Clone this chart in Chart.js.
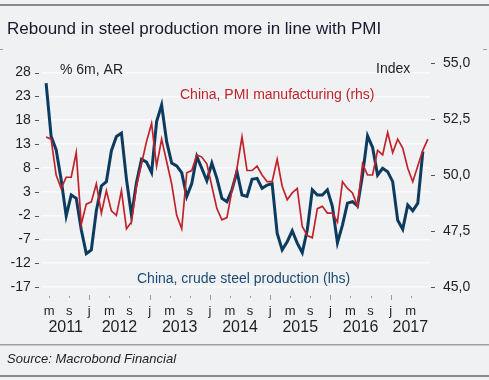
<!DOCTYPE html>
<html>
<head>
<meta charset="utf-8">
<script src="https://cdn.jsdelivr.net/npm/chart.js@4.4.1/dist/chart.umd.min.js"></script>
<style>
  html, body { margin: 0; padding: 0; background: #eff1f3; }
  #wrap { width: 489px; height: 380px; position: relative; }
  canvas { display: block; }
</style>
</head>
<body>
<div id="wrap"><canvas id="chart" width="489" height="380"></canvas></div>
<script>
// ---- Data (monthly, first observation April 2011) ----
const firstYear = 2011;
const firstMonth = 4; // April
const titleText = 'Rebound in steel production more in line with PMI';
const sourceText = 'Source: Macrobond Financial';
const steelLabel = 'China, crude steel production (lhs)';
const pmiLabel = 'China, PMI manufacturing (rhs)';
const leftUnit = '% 6m, AR';
const rightUnit = 'Index';

// China, crude steel production, % 6m annualised rate (lhs), Apr 2011 - Jul 2017
const steelProduction = [
  25.8, 14.6, 11.8, 5.5, -2.1, 2.3, 1.6, -5.0, -10.0, -9.2,
  -1.0, 4.2, 5.1, 11.6, 14.6, 15.3, 5.6, -2.0, 5.0, 9.8,
  9.2, 7.0, 17.7, 21.2, 13.5, 9.0, 8.4, 7.0, 2.0, 4.7,
  10.4, 7.9, 5.3, 9.0, 5.8, 1.6, 0.9, 3.4, 7.2, 2.3,
  2.0, 5.6, 5.8, 3.7, 4.4, 4.7, -5.7, -9.2, -7.5, -5.2,
  -7.8, -9.8, -5.0, 3.4, 2.3, 2.3, 3.4, -0.1, -7.7, -4.0,
  0.6, 0.9, 0.0, 6.5, 14.7, 12.3, 6.5, 7.9, 7.2, 5.1,
  -3.0, -4.9, 0.2, -1.0, 0.6, 11.4
];

// China, PMI manufacturing, index (rhs), Apr 2011 - Aug 2017
const pmiManufacturing = [
  51.7, 51.6, 50.0, 49.4, 49.9, 49.9, 51.0, 47.8, 48.7, 48.8,
  49.6, 48.3, 49.3, 48.4, 48.2, 49.3, 47.6, 47.9, 49.5, 50.5,
  51.5, 52.3, 50.4, 51.6, 50.6, 49.6, 48.2, 47.6, 50.1, 50.2,
  50.9, 50.8, 50.5, 49.5, 48.5, 48.0, 48.1, 49.3, 50.3, 51.7,
  50.2, 50.2, 50.4, 50.0, 49.7, 49.7, 50.7, 49.5, 48.9, 49.2,
  49.4, 47.7, 47.3, 47.2, 48.5, 48.6, 48.3, 48.3, 47.9, 49.7,
  49.4, 49.2, 48.6, 50.5, 50.0, 50.0, 51.1, 50.9, 51.9, 51.0,
  51.6, 51.2, 50.3, 49.7, 50.4, 51.1, 51.6
];

const leftTicks = [28, 23, 18, 13, 8, 3, -2, -7, -12, -17];
const rightTicks = [55, 52.5, 50, 47.5, 45];
const monthInitials = ['j', 'f', 'm', 'a', 'm', 'j', 'j', 'a', 's', 'o', 'n', 'd'];
const years = ['2011', '2012', '2013', '2014', '2015', '2016', '2017'];

// ---- Helpers ----
// x value = months since Jan of firstYear (0 = Jan 2011), observation placed a bit into the month
const obsOffset = 0.4;
function toPoints(values) {
  return values.map((v, i) => ({ x: (firstMonth - 1) + i + obsOffset, y: v }));
}
const xMin = 2.583, xMax = 79.83;
const xTickValues = [];
for (let m = 0; m <= xMax; m += 4) if (m >= xMin) xTickValues.push(m);

const FONT = "'Liberation Sans', Arial, sans-serif";
const TEXT = '#1e1e24';
const BLUE = '#0d3b5f';
const RED = '#c1232b';

const decorPlugin = {
  id: 'decor',
  beforeDraw(chart) {
    const ctx = chart.ctx;
    ctx.save();
    ctx.fillStyle = '#eff1f3';
    ctx.fillRect(0, 0, chart.width, chart.height);
    ctx.fillStyle = '#8a8a8a';
    ctx.fillRect(0, 4, chart.width, 2);
    ctx.fillRect(0, 375, chart.width, 2);
    ctx.fillStyle = '#a0a0a0';
    ctx.fillRect(0, 344, chart.width, 1.5);
    ctx.fillRect(0, 49, 3, 1);
    ctx.fillRect(483, 49, 4, 1);
    ctx.restore();
  },
  afterDraw(chart) {
    const ctx = chart.ctx;
    const x = chart.scales.x, yL = chart.scales.yL, yR = chart.scales.yR;
    const area = chart.chartArea;
    ctx.save();
    // y tick dashes
    ctx.strokeStyle = '#555';
    ctx.lineWidth = 1;
    leftTicks.forEach(v => {
      const py = Math.round(yL.getPixelForValue(v)) + 0.5;
      ctx.beginPath(); ctx.moveTo(35, py); ctx.lineTo(39, py); ctx.stroke();
    });
    rightTicks.forEach(v => {
      const py = Math.round(yR.getPixelForValue(v)) + 0.5;
      ctx.beginPath(); ctx.moveTo(431, py); ctx.lineTo(435, py); ctx.stroke();
    });
    // x tick marks
    ctx.strokeStyle = '#9a9a9a';
    xTickValues.forEach(m => {
      const px = Math.round(x.getPixelForValue(m)) + 0.5;
      const major = m % 12 === 0;
      ctx.beginPath();
      ctx.moveTo(px, major ? 295 : 296);
      ctx.lineTo(px, major ? 300 : 298);
      ctx.stroke();
    });
    // year labels
    ctx.fillStyle = TEXT;
    ctx.font = '16px ' + FONT;
    ctx.textAlign = 'center';
    ctx.textBaseline = 'middle';
    years.forEach((yr, i) => {
      const m0 = i * 12;
      const x0 = Math.max(x.getPixelForValue(m0), area.left);
      const x1 = Math.min(x.getPixelForValue(m0 + 12), area.right);
      ctx.fillText(yr, (x0 + x1) / 2, 328);
    });
    // annotations
    ctx.textAlign = 'left';
    ctx.font = '14px ' + FONT;
    ctx.fillStyle = TEXT;
    ctx.fillText(leftUnit, 60, 70);
    ctx.fillText(rightUnit, 376, 69);
    ctx.fillStyle = RED;
    ctx.fillText(pmiLabel, 180, 95);
    ctx.fillStyle = '#1d4a72';
    ctx.fillText(steelLabel, 137, 279);
    ctx.restore();
  }
};

new Chart(document.getElementById('chart'), {
  type: 'line',
  data: {
    datasets: [
      {
        label: pmiLabel,
        data: toPoints(pmiManufacturing),
        yAxisID: 'yR',
        borderColor: RED,
        borderWidth: 1.7,
        pointRadius: 0,
        tension: 0,
        fill: false
      },
      {
        label: steelLabel,
        data: toPoints(steelProduction),
        yAxisID: 'yL',
        borderColor: BLUE,
        borderWidth: 3,
        pointRadius: 0,
        tension: 0,
        fill: false
      }
    ]
  },
  options: {
    responsive: false,
    animation: false,
    devicePixelRatio: 1,
    layout: { padding: { left: 7, right: 0, top: 0, bottom: 0 } },
    plugins: {
      legend: { display: false },
      tooltip: { enabled: false },
      title: {
        display: true,
        text: titleText,
        align: 'start',
        color: '#151a2c',
        font: { family: FONT, size: 17, weight: 'normal' },
        padding: { top: 18.8, bottom: 23.8 }
      },
      subtitle: {
        display: true,
        position: 'bottom',
        text: sourceText,
        align: 'start',
        color: TEXT,
        font: { family: FONT, size: 13, style: 'italic', weight: 'normal' },
        padding: { top: 4.5, bottom: 12.9 }
      }
    },
    scales: {
      x: {
        type: 'linear',
        min: xMin,
        max: xMax,
        afterFit(s) { s.height = 60; },
        afterBuildTicks(s) { s.ticks = xTickValues.map(v => ({ value: v })); },
        grid: { display: false, drawTicks: false },
        border: { display: false },
        ticks: {
          autoSkip: false,
          maxRotation: 0,
          padding: 16.2,
          color: TEXT,
          font: { family: FONT, size: 13 },
          callback: v => monthInitials[((v % 12) + 12) % 12]
        }
      },
      yL: {
        position: 'left',
        min: -17,
        max: 30,
        afterFit(s) { s.width = 35; },
        afterBuildTicks(s) { s.ticks = leftTicks.map(v => ({ value: v })); },
        grid: { color: '#fafbfc', lineWidth: 1.5, drawTicks: false },
        border: { display: false },
        ticks: {
          padding: 11.3,
          color: TEXT,
          font: { family: FONT, size: 14 },
          callback: v => String(v)
        }
      },
      yR: {
        position: 'right',
        min: 45,
        max: 55,
        afterFit(s) { s.width = 59; },
        afterBuildTicks(s) { s.ticks = rightTicks.map(v => ({ value: v })); },
        grid: { display: false, drawTicks: false },
        border: { display: false },
        ticks: {
          padding: 13,
          color: TEXT,
          font: { family: FONT, size: 14 },
          callback: v => v.toFixed(1).replace('.', ',')
        }
      }
    }
  },
  plugins: [decorPlugin]
});
</script>
</body>
</html>
